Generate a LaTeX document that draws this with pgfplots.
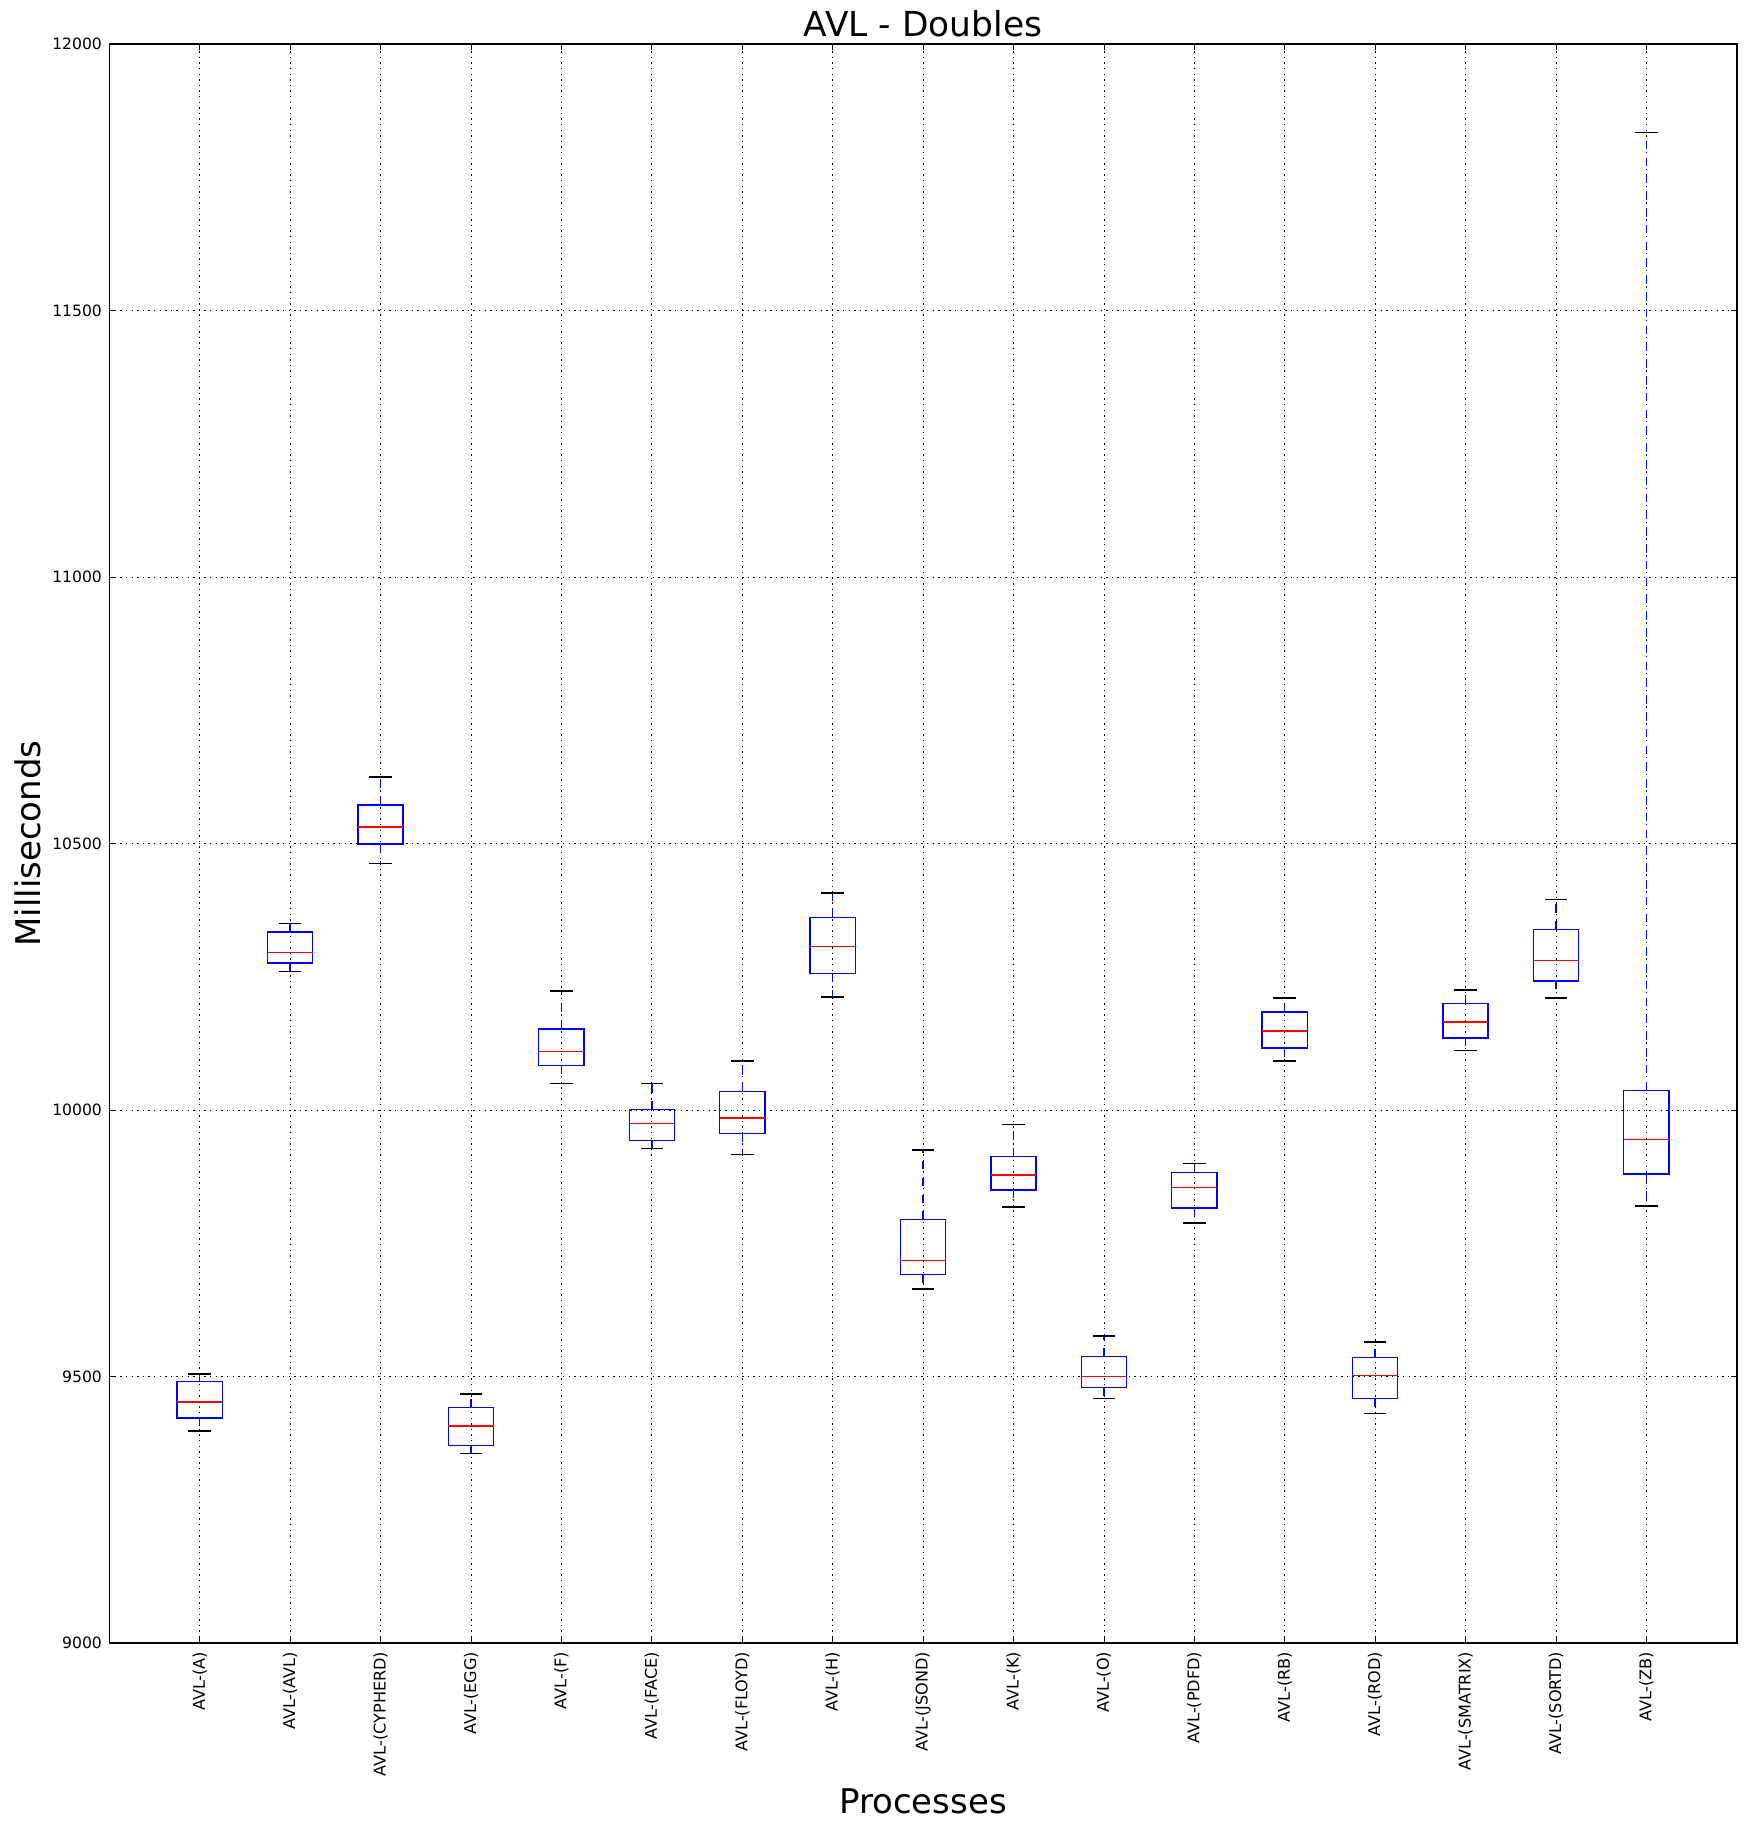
\documentclass[border=0pt]{standalone}
\usepackage{fontspec}
\setmainfont{DejaVu Sans}
\usepackage{pgfplots}
\pgfplotsset{compat=1.18}

\pgfplotsset{
  whisk/.style={blue, mark=none, line width=0.7pt, dash pattern=on 4.2pt off 4.2pt},
  capl/.style={black, mark=none, solid, line width=0.7pt},
  boxl/.style={blue, mark=none, solid, line width=0.7pt, line join=miter},
  medl/.style={red, mark=none, solid, line width=0.7pt},
}

% one box per process (ms): position, lower whisker, lower quartile,
% median, upper quartile, upper whisker
\newcommand{\bx}[6]{%
  \pgfmathsetmacro\xl{#1-0.25}\pgfmathsetmacro\xr{#1+0.25}%
  \pgfmathsetmacro\cl{#1-0.125}\pgfmathsetmacro\cr{#1+0.125}%
  \edef\doit{%
    \noexpand\addplot[whisk] coordinates {(#1,#3) (#1,#2)};
    \noexpand\addplot[whisk] coordinates {(#1,#5) (#1,#6)};
    \noexpand\addplot[capl] coordinates {(\cl,#2) (\cr,#2)};
    \noexpand\addplot[capl] coordinates {(\cl,#6) (\cr,#6)};
    \noexpand\addplot[boxl] coordinates {(\xl,#3) (\xr,#3) (\xr,#5) (\xl,#5) (\xl,#3) (\xr,#3)};
    \noexpand\addplot[medl] coordinates {(\xl,#4) (\xr,#4)};
  }\doit}

\begin{document}
\begin{tikzpicture}
\path[use as bounding box] (-54.65pt,-93.5pt) rectangle (818.45pt,821.5pt);
\begin{axis}[
    at={(0,0)}, anchor=south west,
    scale only axis, width=813.75pt, height=799.5pt,
    xmin=0, xmax=18, ymin=9000, ymax=12000,
    xtick={1,...,17},
    xticklabels={AVL-(A),AVL-(AVL),AVL-(CYPHERD),AVL-(EGG),AVL-(F),AVL-(FACE),AVL-(FLOYD),AVL-(H),AVL-(JSOND),AVL-(K),AVL-(O),AVL-(PDFD),AVL-(RB),AVL-(ROD),AVL-(SMATRIX),AVL-(SORTD),AVL-(ZB)},
    ytick={9000,9500,10000,10500,11000,11500,12000},
    scaled y ticks=false,
    /pgf/number format/1000 sep={},
    /pgf/number format/assume math mode=true,
    xticklabel style={font=\fontsize{8.05}{9.6}\selectfont, inner sep=0pt, rotate=90, anchor=east},
    yticklabel style={font=\fontsize{7.8}{9.4}\selectfont, inner sep=0pt, anchor=east},
    xticklabel shift=4.2pt,
    yticklabel shift=3.5pt,
    tick align=inside,
    major tick length=2.8pt,
    tick style={black, line width=0.35pt},
    axis line style={line width=0.7pt},
    grid=major,
    grid style={black, line width=0.35pt, dash pattern=on 0.7pt off 2.1pt},
    title={AVL - Doubles},
    title style={font=\fontsize{17.2}{20}\selectfont, at={(axis description cs:0.5,0.99722)}, anchor=base},
    xlabel={Processes},
    xlabel style={font=\fontsize{17}{20}\selectfont, at={(axis description cs:0.5,-0.1069)}, anchor=base},
    ylabel={Milliseconds},
    ylabel style={font=\fontsize{17}{20}\selectfont, at={(axis description cs:-0.0425,0.5)}, anchor=base},
]
%   pos  lw    lq    med   uq    uw
\bx{1}{9398}{9422}{9452}{9491}{9505}
\bx{2}{10260}{10276}{10296}{10334}{10350}
\bx{3}{10463}{10499}{10531}{10572}{10625}
\bx{4}{9356}{9371}{9407}{9442}{9467}
\bx{5}{10050}{10084}{10110}{10152}{10223}
\bx{6}{9928}{9943}{9975}{10001}{10050}
\bx{7}{9916}{9956}{9985}{10035}{10092}
\bx{8}{10212}{10256}{10307}{10361}{10407}
\bx{9}{9664}{9691}{9718}{9794}{9925}
\bx{10}{9818}{9850}{9878}{9913}{9973}
\bx{11}{9459}{9479}{9500}{9537}{9576}
\bx{12}{9788}{9816}{9855}{9883}{9900}
\bx{13}{10092}{10116}{10148}{10184}{10210}
\bx{14}{9431}{9459}{9502}{9536}{9565}
\bx{15}{10112}{10135}{10165}{10200}{10225}
\bx{16}{10210}{10242}{10280}{10339}{10395}
\bx{17}{9820}{9880}{9945}{10037}{11834}
\end{axis}
\end{tikzpicture}
\end{document}
